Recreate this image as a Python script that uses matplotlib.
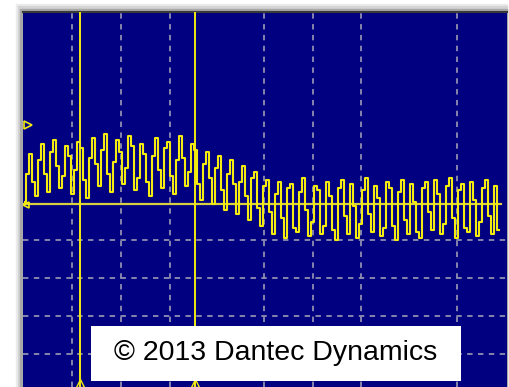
"""Oscilloscope-style trace with cursors, recreated from a screenshot."""

import matplotlib
matplotlib.use('Agg')
import matplotlib.pyplot as plt
from matplotlib.patches import Rectangle

# Trace samples (height above the zero line, screen units), one every 3 units
step = 3.0
signal = [
    # start: big swings above the zero line
    2, 30, 50, 22, 8, 44, 60, 30, 12, 52,
    64, 38, 16, 28, 58, 48, 10, 34, 62, 56,
    24, 6, 46, 66, 40, 18, 54, 70, 30, 12,
    42, 64, 52, 20, 36, 68, 58, 14, 26, 60,
    50, 22, 8, 48, 66, 34, 16, 56, 62, 28,
    10, 44, 68, 46, 18, 32, 60, 54, 20,
    # decay
    4, 40, 52, 26, 0, 36, 48, 14, -6, 30,
    44, 20, -10, 22, 38, 8, -16, 26, 32, -4,
    -22, 18,
    # settled: smaller swings around the zero line
    24, -8, -30, 10, 22, -14, -34, 16, 20, -24,
    -28, 12, 26, -6, -32, -18, 18, 14, -30, -22,
    22, 8, -26, -36, 16, 24, -12, -30, 20, -2,
    -34, -20, 14, 26, -10, -28, 18, 6, -32, -24,
    22, 16, -22, -36, 12, 24, -16, -30, 20, 2,
    -28, -34, 16, 22, -8, -26, 24, 10, -30, -20,
    18, 26, -14, -34, 14, 20, -24, -28, 22, 4,
    -32, -18, 16, 24, -12, -30, 18, -26,
]
times = [2 + i * step for i in range(len(signal))]

# Screen grid and cursor positions
grid_x = [49, 98, 147, 241, 290, 338, 434]
grid_y = [-36, -74, -112, -150]
cursors = [57, 172]
label = '\u00a9 2013 Dantec Dynamics'

fig = plt.figure(figsize=(5.1, 3.87), dpi=100)
fig.patch.set_facecolor('white')

# soft drop shadow around the screen
W, H = 510, 387
for x0, y0, c in [(16, 4, '#ECECEC'), (18, 6, '#D4D4D4'), (20, 9, '#A8A8A8')]:
    fig.patches.append(Rectangle((x0 / W, 0), (507 - x0) / W, (H - y0) / H,
                                 transform=fig.transFigure, color=c, zorder=-10))

ax = fig.add_axes([23 / W, 0, 484 / W, 375 / H])
ax.set_zorder(5)
ax.set_facecolor('#000080')
ax.set_xlim(0, 484)
ax.set_ylim(-183, 192)

for gx in grid_x:
    ax.axvline(gx, color='#9090B0', lw=1.3, ls=(0, (3, 3)), zorder=1)
for gy in grid_y:
    ax.axhline(gy, color='#9090B0', lw=1.3, ls=(0, (3, 3)), zorder=1)

# zero line and trace
ax.plot([0, times[-1] + 2], [0, 0], color='#D8D040', lw=1.6, zorder=2)
ax.plot(times, signal, drawstyle='steps-mid', color='#F4EC10', lw=1.5, zorder=3)

# cursors
for cx in cursors:
    ax.axvline(cx, color='#F4EC10', lw=1.4, zorder=4)
    ax.plot(cx, -179, marker='^', ms=6, mfc='none', mec='#F4EC10', mew=1.0,
            zorder=4, clip_on=False)

# trigger / level markers
ax.plot(5, 79, marker='>', ms=6, mfc='none', mec='#F4EC10', mew=1.2, zorder=4)
ax.plot(3, -1, marker='<', ms=5, mfc='none', mec='#F4EC10', mew=1.2, zorder=4)

# copyright box
ax.add_patch(Rectangle((68, -177), 370, 55, facecolor='white', edgecolor='none',
                       zorder=5))
ax.text(253, -149, label, ha='center', va='center', fontsize=20.5,
        family='Liberation Sans', color='black', zorder=6)

ax.set_xticks([])
ax.set_yticks([])
for side in ['left', 'right', 'bottom']:
    ax.spines[side].set_visible(False)
ax.spines['top'].set_color('#3A3A3A')
ax.spines['top'].set_linewidth(1.5)

fig.savefig('out.png', dpi=100)
